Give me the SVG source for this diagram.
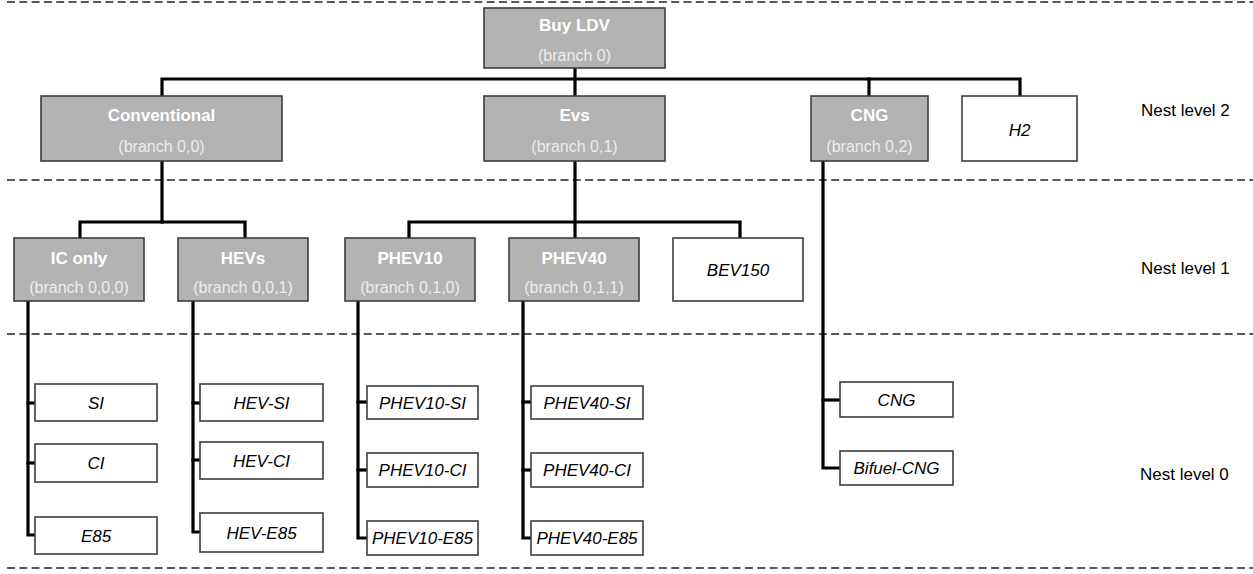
<svg xmlns="http://www.w3.org/2000/svg" width="1253" height="574" viewBox="0 0 1253 574">
<style>
.bg{fill:#ffffff}
.sep{stroke:#222;stroke-width:1.6;stroke-dasharray:8 4.3;fill:none}
.con{stroke:#000;stroke-width:3.2;fill:none;stroke-linejoin:miter;stroke-linecap:square}
.gbox{fill:#b3b3b3;stroke:#3d3d3d;stroke-width:1.6}
.wbox{fill:#ffffff;stroke:#3d3d3d;stroke-width:1.6}
.title{font-family:"Liberation Sans",Arial,sans-serif;font-weight:bold;font-size:17px;fill:#ffffff;text-anchor:middle}
.sub{font-family:"Liberation Sans",Arial,sans-serif;font-size:16px;fill:#ececec;text-anchor:middle}
.leaf{font-family:"Liberation Sans",Arial,sans-serif;font-style:italic;font-size:17px;fill:#000;text-anchor:middle}
.nest{font-family:"Liberation Sans",Arial,sans-serif;font-size:17px;fill:#000}
</style>
<rect class="bg" x="0" y="0" width="1253" height="574"/>
<g id="separators">
<line class="sep" x1="7" y1="2" x2="1253" y2="2"/>
<line class="sep" x1="7" y1="180" x2="1253" y2="180"/>
<line class="sep" x1="7" y1="334" x2="1253" y2="334"/>
<line class="sep" x1="7" y1="568" x2="1253" y2="568"/>
</g>
<g id="connectors">
<polyline class="con" points="575,68 575,96"/>
<polyline class="con" points="162,96 162,79 1020,79 1020,96"/>
<polyline class="con" points="869,79 869,96"/>
<polyline class="con" points="162,161 162,222"/>
<polyline class="con" points="80,238 80,222 245,222 245,238"/>
<polyline class="con" points="575,161 575,238"/>
<polyline class="con" points="409,238 409,222 740,222 740,238"/>
<polyline class="con" points="823,161 823,468 840,468"/>
<polyline class="con" points="823,400 840,400"/>
<polyline class="con" points="28,301 28,535 35,535"/>
<polyline class="con" points="28,403 35,403"/>
<polyline class="con" points="28,463 35,463"/>
<polyline class="con" points="193,301 193,532 200,532"/>
<polyline class="con" points="193,403 200,403"/>
<polyline class="con" points="193,460 200,460"/>
<polyline class="con" points="358,301 358,538 367,538"/>
<polyline class="con" points="358,402 367,402"/>
<polyline class="con" points="358,470 367,470"/>
<polyline class="con" points="523,301 523,538 531,538"/>
<polyline class="con" points="523,402 531,402"/>
<polyline class="con" points="523,470 531,470"/>
</g>
<g id="buy-ldv">
<rect class="gbox" x="484" y="8" width="181" height="60"/>
<text class="title" x="574.5" y="31">Buy LDV</text>
<text class="sub" x="574.5" y="61">(branch 0)</text>
</g>
<g id="conventional">
<rect class="gbox" x="41" y="96" width="241" height="65"/>
<text class="title" x="161.5" y="121">Conventional</text>
<text class="sub" x="161.5" y="152">(branch 0,0)</text>
</g>
<g id="evs">
<rect class="gbox" x="484" y="96" width="181" height="65"/>
<text class="title" x="574.5" y="121">Evs</text>
<text class="sub" x="574.5" y="152">(branch 0,1)</text>
</g>
<g id="cng-branch">
<rect class="gbox" x="811" y="96" width="117" height="65"/>
<text class="title" x="869.5" y="121">CNG</text>
<text class="sub" x="869.5" y="152">(branch 0,2)</text>
</g>
<g id="h2">
<rect class="wbox" x="962" y="96" width="115" height="65"/>
<text class="leaf" x="1019.5" y="136">H2</text>
</g>
<g id="ic-only">
<rect class="gbox" x="14" y="238" width="130" height="63"/>
<text class="title" x="79" y="264">IC only</text>
<text class="sub" x="79" y="293">(branch 0,0,0)</text>
</g>
<g id="hevs">
<rect class="gbox" x="178" y="238" width="130" height="63"/>
<text class="title" x="243" y="264">HEVs</text>
<text class="sub" x="243" y="293">(branch 0,0,1)</text>
</g>
<g id="phev10">
<rect class="gbox" x="345" y="238" width="130" height="63"/>
<text class="title" x="410" y="264">PHEV10</text>
<text class="sub" x="410" y="293">(branch 0,1,0)</text>
</g>
<g id="phev40">
<rect class="gbox" x="509" y="238" width="130" height="63"/>
<text class="title" x="574" y="264">PHEV40</text>
<text class="sub" x="574" y="293">(branch 0,1,1)</text>
</g>
<g id="bev150">
<rect class="wbox" x="673" y="238" width="130" height="63"/>
<text class="leaf" x="738" y="276">BEV150</text>
</g>
<g id="si">
<rect class="wbox" x="35" y="384" width="122" height="37"/>
<text class="leaf" x="96" y="409">SI</text>
</g>
<g id="ci">
<rect class="wbox" x="35" y="444" width="122" height="38"/>
<text class="leaf" x="96" y="469">CI</text>
</g>
<g id="e85">
<rect class="wbox" x="35" y="517" width="122" height="37"/>
<text class="leaf" x="96" y="542">E85</text>
</g>
<g id="hev-si">
<rect class="wbox" x="200" y="384" width="123" height="37"/>
<text class="leaf" x="261.5" y="409">HEV-SI</text>
</g>
<g id="hev-ci">
<rect class="wbox" x="200" y="442" width="123" height="37"/>
<text class="leaf" x="261.5" y="467">HEV-CI</text>
</g>
<g id="hev-e85">
<rect class="wbox" x="200" y="513" width="123" height="39"/>
<text class="leaf" x="261.5" y="539">HEV-E85</text>
</g>
<g id="phev10-si">
<rect class="wbox" x="367" y="386" width="111" height="33"/>
<text class="leaf" x="422.5" y="409">PHEV10-SI</text>
</g>
<g id="phev10-ci">
<rect class="wbox" x="367" y="453" width="111" height="34"/>
<text class="leaf" x="422.5" y="476">PHEV10-CI</text>
</g>
<g id="phev10-e85">
<rect class="wbox" x="367" y="521" width="111" height="34"/>
<text class="leaf" x="422.5" y="544">PHEV10-E85</text>
</g>
<g id="phev40-si">
<rect class="wbox" x="531" y="386" width="112" height="33"/>
<text class="leaf" x="587" y="409">PHEV40-SI</text>
</g>
<g id="phev40-ci">
<rect class="wbox" x="531" y="453" width="112" height="34"/>
<text class="leaf" x="587" y="476">PHEV40-CI</text>
</g>
<g id="phev40-e85">
<rect class="wbox" x="531" y="521" width="112" height="34"/>
<text class="leaf" x="587" y="544">PHEV40-E85</text>
</g>
<g id="cng-leaf">
<rect class="wbox" x="840" y="382" width="113" height="35"/>
<text class="leaf" x="896.5" y="406">CNG</text>
</g>
<g id="bifuel-cng">
<rect class="wbox" x="840" y="451" width="113" height="34"/>
<text class="leaf" x="896.5" y="474">Bifuel-CNG</text>
</g>
<g id="nest-labels">
<text class="nest" x="1141" y="116">Nest level 2</text>
<text class="nest" x="1141" y="274">Nest level 1</text>
<text class="nest" x="1140" y="480">Nest level 0</text>
</g>
</svg>
